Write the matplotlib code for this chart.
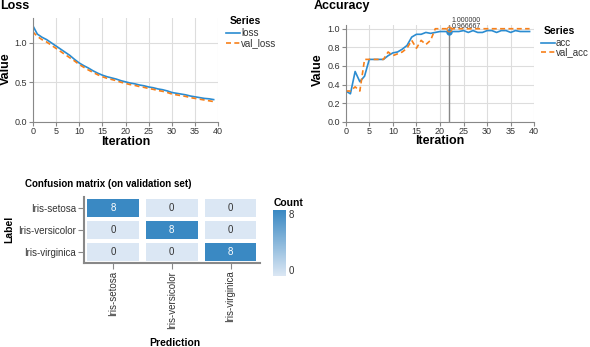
import numpy as np
import matplotlib
matplotlib.use("Agg")
import matplotlib.pyplot as plt
from matplotlib.colors import LinearSegmentedColormap
from matplotlib.lines import Line2D

plt.rcParams['font.family'] = ['Liberation Sans', 'DejaVu Sans']

# Data
iterations = list(range(40))
loss = [1.22, 1.11, 1.07, 1.04, 1.00, 0.96, 0.92, 0.88, 0.84, 0.79,
        0.745, 0.71, 0.68, 0.645, 0.615, 0.59, 0.57, 0.555, 0.54, 0.52,
        0.505, 0.49, 0.48, 0.465, 0.455, 0.44, 0.43, 0.415, 0.405, 0.39,
        0.37, 0.36, 0.35, 0.34, 0.325, 0.315, 0.305, 0.295, 0.29, 0.28]
val_loss = [1.14, 1.08, 1.04, 1.01, 0.97, 0.93, 0.89, 0.85, 0.81, 0.77,
            0.725, 0.69, 0.655, 0.625, 0.595, 0.57, 0.55, 0.535, 0.52, 0.50,
            0.485, 0.47, 0.46, 0.445, 0.435, 0.42, 0.41, 0.395, 0.385, 0.37,
            0.35, 0.34, 0.33, 0.32, 0.305, 0.295, 0.285, 0.275, 0.265, 0.255]
acc = [0.33, 0.30, 0.54, 0.43, 0.49, 0.67, 0.67, 0.67, 0.67, 0.71,
       0.74, 0.75, 0.78, 0.82, 0.91, 0.94, 0.94, 0.96, 0.95, 0.96,
       0.97, 0.97, 0.966667, 0.97, 0.97, 0.98, 0.96, 0.98, 0.96, 0.96,
       0.98, 0.98, 0.96, 0.98, 0.98, 0.96, 0.98, 0.97, 0.97, 0.97]
val_acc = [0.33, 0.33, 0.375, 0.33, 0.67, 0.67, 0.67, 0.67, 0.67, 0.75,
           0.71, 0.73, 0.75, 0.79, 0.875, 0.79, 0.875, 0.83, 0.875, 1.0,
           1.0, 1.0, 1.0, 1.0, 1.0, 1.0, 1.0, 1.0, 1.0, 1.0,
           1.0, 1.0, 1.0, 1.0, 1.0, 1.0, 1.0, 1.0, 1.0, 1.0]
hover_iter = 22

classes = ['Iris-setosa', 'Iris-versicolor', 'Iris-virginica']
confusion = [[8, 0, 0],
             [0, 8, 0],
             [0, 0, 8]]

W, H = 590, 347
BLUE = '#2b8cd1'
ORANGE = '#f7801a'
GRID = '#dddddd'
AXC = '#888888'
TXT = '#333333'

fig = plt.figure(figsize=(W / 100, H / 100), dpi=100)


def px_axes(left, top, right, bottom):
    return fig.add_axes([left / W, 1 - bottom / H, (right - left) / W, (bottom - top) / H])


def fx(x):
    return x / W


def fy(y):
    return 1 - y / H


def style_line_axes(ax, ymax, yticks):
    ax.set_xlim(0, 40)
    ax.set_ylim(0, ymax)
    ax.set_xticks(range(0, 41, 5))
    ax.set_yticks(yticks)
    ax.grid(True, color=GRID, lw=0.8)
    ax.set_axisbelow(True)
    for s in ['top', 'right']:
        ax.spines[s].set_visible(False)
    for s in ['left', 'bottom']:
        ax.spines[s].set_color(AXC)
        ax.spines[s].set_linewidth(0.8)
    ax.tick_params(length=3, width=0.8, color=AXC, labelsize=6.5, labelcolor=TXT, pad=1)


# Loss chart
ax1 = px_axes(32.7, 18.3, 218.3, 121.7)
ax1.plot(iterations, loss, color=BLUE, lw=1.2, label='loss')
ax1.plot(iterations, val_loss, color=ORANGE, lw=1.2, ls=(0, (3, 2)), label='val_loss')
style_line_axes(ax1, 1.31, [0.0, 0.5, 1.0])
ax1.set_yticklabels(['0.0', '0.5', '1.0'])
fig.text(fx(0), fy(9), 'Loss', fontsize=9, fontweight='bold', va='baseline', ha='left')
fig.text(fx(125.5), fy(142), 'Iteration', fontsize=9, fontweight='bold', ha='center', va='center')
fig.text(fx(6), fy(69), 'Value', fontsize=9, fontweight='bold', ha='center', va='center', rotation=90)

# Accuracy chart
ax2 = px_axes(345.7, 25, 534.3, 121.7)
ax2.plot(iterations, acc, color=BLUE, lw=1.2, label='acc')
ax2.plot(iterations, val_acc, color=ORANGE, lw=1.2, ls=(0, (3, 2)), label='val_acc')
style_line_axes(ax2, 1.04, [0.0, 0.2, 0.4, 0.6, 0.8, 1.0])
ax2.set_yticklabels(['0.0', '0.2', '0.4', '0.6', '0.8', '1.0'])
ax2.axvline(hover_iter, color='#888888', lw=1.0)
ax2.plot([hover_iter], [acc[hover_iter]], 'o', ms=3.5, color=BLUE)
ax2.plot([hover_iter], [val_acc[hover_iter]], 'o', ms=3.5, mfc='none', mec=ORANGE, mew=0.8)
ax2.text(hover_iter + 0.5, val_acc[hover_iter] + 0.075, '%.6f' % val_acc[hover_iter],
         fontsize=5, color=TXT, va='baseline', clip_on=False)
ax2.text(hover_iter + 0.5, acc[hover_iter] + 0.045, '%.6f' % acc[hover_iter],
         fontsize=5, color=TXT, va='baseline', clip_on=False)
fig.text(fx(314), fy(9), 'Accuracy', fontsize=9, fontweight='bold', va='baseline', ha='left')
fig.text(fx(439.5), fy(141), 'Iteration', fontsize=9, fontweight='bold', ha='center', va='center')
fig.text(fx(317.5), fy(70), 'Value', fontsize=9, fontweight='bold', ha='center', va='center', rotation=90)


# Legends
def legend(x_title, y_title, x_line, names, ys):
    fig.text(fx(x_title), fy(y_title), 'Series', fontsize=7.5, fontweight='bold', va='center', ha='left')
    styles = ['-', (0, (3, 2))]
    colors = [BLUE, ORANGE]
    for name, y, st, c in zip(names, ys, styles, colors):
        fig.add_artist(Line2D([fx(x_line), fx(x_line + 14)], [fy(y), fy(y)], color=c, lw=1.2, ls=st))
        fig.text(fx(x_line + 15), fy(y), name, fontsize=7, color=TXT, va='center', ha='left')


legend(230, 21.3, 226, ['loss', 'val_loss'], [33.3, 43.3])
legend(544, 30.7, 540.7, ['acc', 'val_acc'], [42.7, 52.3])

# Confusion matrix
cmap = LinearSegmentedColormap.from_list('cm_blues', ['#dbe7f4', '#3a89c3'])
vmax = 8
ax3 = px_axes(83.5, 197.3, 260, 263)
for i, row in enumerate(confusion):
    for j, v in enumerate(row):
        ax3.bar(j, 0.84, bottom=i - 0.42, width=0.88, color=cmap(v / vmax), lw=0)
        ax3.text(j, i, str(v), ha='center', va='center', fontsize=7,
                 color='white' if v > vmax / 2 else TXT)
ax3.set_xlim(-0.5, 2.5)
ax3.set_ylim(2.5, -0.5)
ax3.set_xticks(range(3))
ax3.set_yticks(range(3))
ax3.set_xticklabels(classes, rotation=90)
ax3.set_yticklabels(classes)
for s in ['top', 'right']:
    ax3.spines[s].set_visible(False)
for s in ['left', 'bottom']:
    ax3.spines[s].set_color(AXC)
    ax3.spines[s].set_linewidth(1.5)
ax3.tick_params(length=4, width=0.8, color=AXC, labelsize=7, labelcolor=TXT, pad=1.5)
fig.text(fx(25), fy(184), 'Confusion matrix (on validation set)', fontsize=7, fontweight='bold',
         ha='left', va='center')
fig.text(fx(174.5), fy(342.5), 'Prediction', fontsize=7.5, fontweight='bold', ha='center', va='center')
fig.text(fx(8.8), fy(229), 'Label', fontsize=7.5, fontweight='bold', ha='center', va='center', rotation=90)

# Colour legend
cax = px_axes(273.3, 210, 286, 275.7)
grad = np.linspace(vmax, 0, 100).reshape(-1, 1)
cax.imshow(grad, cmap=cmap, vmin=0, vmax=vmax, aspect='auto', extent=[0, 1, 0, vmax])
cax.set_axis_off()
fig.text(fx(274), fy(203), 'Count', fontsize=7.5, fontweight='bold', ha='left', va='center')
fig.text(fx(288.5), fy(214.5), str(vmax), fontsize=7, color=TXT, ha='left', va='center')
fig.text(fx(288.5), fy(271), '0', fontsize=7, color=TXT, ha='left', va='center')

fig.savefig('out.png', dpi=100)
